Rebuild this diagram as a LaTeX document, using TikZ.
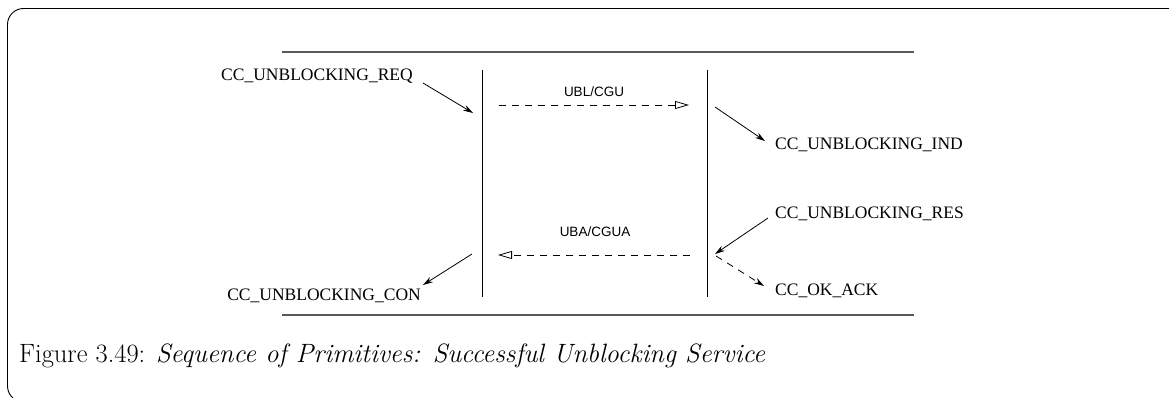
\documentclass[tikz,border=0pt]{standalone}
\usepackage{fontspec}
\newfontfamily\tms{Liberation Serif}
\newfontfamily\hel{Liberation Sans}
\usetikzlibrary{arrows.meta}
\begin{document}
\begin{tikzpicture}[x=1pt,y=-1pt,
  lbl/.style={font=\tms\fontsize{17.5}{20}\selectfont, inner sep=0pt},
  msg/.style={font=\hel\fontsize{13.5}{16}\selectfont, inner sep=0pt},
  prim/.style={line width=0.8pt, -{Stealth[length=10pt,width=6pt]}},
  primd/.style={prim, dash pattern=on 7pt off 6pt},
  mesg/.style={line width=0.8pt, dash pattern=on 7pt off 6pt, -{Triangle[open,length=14pt,width=8pt]}},
  rule/.style={line width=1.4pt, black!65},
  life/.style={line width=1pt}]
\useasboundingbox (0,0) rectangle (1169,398);
\begin{scope}
\clip (0,0) rectangle (1169,398);
\draw[line width=0.9pt, rounded corners=16pt] (7.5,8.5) rectangle (1200,402);
\end{scope}
% rules
\coordinate (t1) at (282,52); \coordinate (t2) at (914,52);
\coordinate (b1) at (282,315); \coordinate (b2) at (914,315);
\draw[rule] (t1) -- (t2);
\draw[rule] (b1) -- (b2);
% lifelines
\coordinate (l1) at (482,70); \coordinate (l2) at (482,297);
\coordinate (r1) at (707,70); \coordinate (r2) at (707,297);
\draw[life] (l1) -- (l2);
\draw[life] (r1) -- (r2);
% labels
\node[lbl, anchor=center] (req) at (317,76) {CC\_UNBLOCKING\_REQ};
\node[lbl, anchor=west] (ind) at (775,145) {CC\_UNBLOCKING\_IND};
\node[lbl, anchor=west] (res) at (775,214) {CC\_UNBLOCKING\_RES};
\node[lbl, anchor=west] (ack) at (775,291) {CC\_OK\_ACK};
\node[lbl, anchor=east] (con) at (421,296) {CC\_UNBLOCKING\_CON};
\node[msg] (ubl) at (594,92) {UBL/CGU};
\node[msg] (uba) at (595,232) {UBA/CGUA};
% primitive arrows
\coordinate (reqs) at (423,83); \coordinate (reqe) at (473,113);
\draw[prim] (reqs) -- (reqe);
\coordinate (inds) at (715,107); \coordinate (inde) at (765,141);
\draw[prim] (inds) -- (inde);
\coordinate (ress) at (768,218); \coordinate (rese) at (715,254);
\draw[prim] (ress) -- (rese);
\coordinate (acks) at (716,256); \coordinate (acke) at (764,286);
\draw[primd] (acks) -- (acke);
\coordinate (cons) at (472,254); \coordinate (cone) at (423,285);
\draw[prim] (cons) -- (cone);
% messages
\coordinate (m1s) at (499,105); \coordinate (m1e) at (689,105);
\draw[mesg] (m1s) -- (m1e);
\coordinate (m2s) at (690,255); \coordinate (m2e) at (498,255);
\draw[mesg] (m2s) -- (m2e);
% caption
\node[anchor=west, inner sep=0pt, font=\fontsize{26.5}{30}\selectfont] (cap) at (19,356) {Figure 3.49: \textit{Sequence of Primitives: Successful Unblocking Service}};
\end{tikzpicture}
\end{document}
